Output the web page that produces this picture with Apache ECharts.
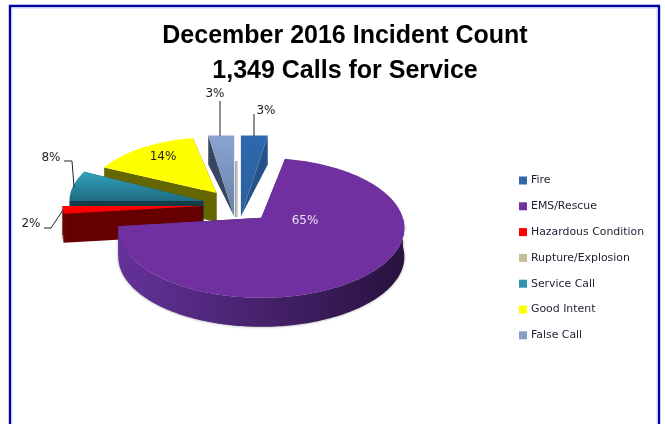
<!DOCTYPE html>
<html>
<head>
<meta charset="utf-8">
<title>December 2016 Incident Count</title>
<script src="https://cdn.jsdelivr.net/npm/echarts@6/dist/echarts.min.js"></script>
<style>
html, body { margin: 0; padding: 0; background: #fff; overflow: hidden; }
#chart { width: 665px; height: 424px; }
</style>
</head>
<body>
<div id="chart"></div>
<script>
var categories = ['Fire', 'EMS/Rescue', 'Hazardous Condition', 'Rupture/Explosion', 'Service Call', 'Good Intent', 'False Call'];
// printed labels, the chart's own numbers (they only add up to 95)
var percentLabels = ['3%', '65%', '2%', '', '8%', '14%', '3%'];
// share of the circle each wedge really takes in the picture
var shares = [3.1, 70, 1.9, 0, 7.5, 14.5, 3.0];

var colors = ['#2f66a8', '#7030a0', '#ff0000', '#c4bd97', '#2e93ad', '#ffff00', '#849dc9'];
var wallColors = ['#26528a', '#3a1c5c', '#660000', '#8a8570', '#123c48', '#666600', '#38465f'];

// back to front
var drawOrder = [6, 0, 5, 4, 3, 2, 1];

// pie layout
var centerX = 237.5, centerY = 205, explode = 35, tilt = 0.5, depth = 29;
var shape = [
    {rx: 136, ry: 81, lift: 29, drop: 0, tipDepth: 0, flat: true},
    {rx: 143, ry: 70, lift: 0, drop: 10, tipDepth: 29},
    {rx: 140, ry: 64, lift: 0, drop: 0, tipDepth: 29},
    {rx: 140, ry: 64, lift: 0, drop: 0, tipDepth: 29},
    {rx: 134, ry: 64, lift: 0, drop: 0, tipDepth: 29},
    {rx: 126, ry: 56, lift: 2, drop: 0, tipDepth: 29},
    {rx: 136, ry: 81, lift: 29, drop: 0, tipDepth: 0, flat: true}
];
// label text spot and leader line for each wedge
var labelSpots = [
    {x: 266, y: 111, line: [[254, 114], [254, 136]], color: '#222'},
    {x: 305, y: 221, color: '#e8e0f4'},
    {x: 31, y: 224, line: [[44, 228], [51, 228], [63, 210]], color: '#222'},
    null,
    {x: 51, y: 158, line: [[64, 161], [72, 161], [74, 187]], color: '#222'},
    {x: 163, y: 157, color: '#222'},
    {x: 215, y: 94, line: [[220, 101], [220, 136]], color: '#222'}
];

function rad(d) { return d * Math.PI / 180; }

function startAngleOf(i) {
    var total = 0, sum = 0;
    for (var k = 0; k < shares.length; k++) {
        total += shares[k];
        if (k < i) sum += shares[k];
    }
    return sum / total * 360;
}

// ray from the tip at angle a meets the (possibly dropped) rim ellipse
function rimPoint(tip, s, a) {
    var dx = Math.sin(rad(a)), dy = -Math.cos(rad(a));
    var c = s.drop / s.ry;
    var b = dy * c;
    var t = b + Math.sqrt(b * b - c * c + 1);
    if (s.flat) t = 1 / Math.abs(dy);
    return [tip[0] + dx * t * s.rx, tip[1] + dy * t * s.ry];
}

function shade(color1, color2, horizontal) {
    return new echarts.graphic.LinearGradient(0, 0, horizontal ? 1 : 0, horizontal ? 0 : 1, [
        {offset: 0, color: color1}, {offset: 1, color: color2}
    ]);
}

function topFill(i) {
    if (i === 0) return shade('#2f68ae', '#2b5f9e');
    if (i === 4) return shade('#30a0bc', '#1f6c82');
    if (i === 6) return shade('#8aa3d0', '#6882aa');
    return colors[i];
}

function wallFill(i) {
    if (i === 1) return shade('#64329a', '#28123e', true);
    return wallColors[i];
}

function renderWedge(i) {
    var start = startAngleOf(i);
    var end = start + shares[i] / 100 * 360;
    var mid = (start + end) / 2;
    var s = shape[i];
    var tip = [
        centerX + explode * Math.sin(rad(mid)),
        centerY - explode * tilt * Math.cos(rad(mid)) + s.lift
    ];
    var rim = [], frontRim = [];
    var steps = Math.max(6, Math.ceil(end - start));
    for (var k = 0; k <= steps; k++) {
        var a = start + (end - start) * k / steps;
        var p = rimPoint(tip, s, a);
        rim.push(p);
        if (a >= 90 && a <= 270) frontRim.push(p);
    }
    var children = [];
    var first = rim[0], last = rim[rim.length - 1];
    var wallStyle = {fill: wallFill(i)};

    // cut faces
    children.push({type: 'polygon', shape: {points: [tip, first, [first[0], first[1] + depth], [tip[0], tip[1] + s.tipDepth]]}, style: wallStyle});
    children.push({type: 'polygon', shape: {points: [tip, last, [last[0], last[1] + depth], [tip[0], tip[1] + s.tipDepth]]}, style: wallStyle});
    // round side, only the part that faces the viewer
    if (frontRim.length > 1) {
        var lower = frontRim.map(function (p) { return [p[0], p[1] + depth]; }).reverse();
        children.push({
            type: 'polygon',
            shape: {points: frontRim.concat(lower)},
            style: {fill: wallFill(i), shadowBlur: 3, shadowColor: 'rgba(60,60,60,0.5)'}
        });
    }
    // top face
    children.push({type: 'polygon', shape: {points: [tip].concat(rim)}, style: {fill: topFill(i)}});

    var spot = labelSpots[i];
    if (spot.line) {
        children.push({type: 'polyline', shape: {points: spot.line}, style: {stroke: '#222', lineWidth: 1, fill: null}});
    }
    children.push({
        type: 'text',
        style: {
            x: spot.x, y: spot.y, text: percentLabels[i], fill: spot.color,
            font: '12px "DejaVu Sans"', align: 'center', verticalAlign: 'middle'
        }
    });
    return {type: 'group', children: children};
}

var seriesList = categories.map(function (name, i) {
    return {
        type: 'custom',
        name: name,
        coordinateSystem: 'none',
        z: 2 + drawOrder.indexOf(i),
        itemStyle: {color: colors[i]},
        data: [shares[i]],
        silent: true,
        renderItem: function () {
            return shares[i] > 0 ? renderWedge(i) : null;
        }
    };
});

var myChart = echarts.init(document.getElementById('chart'), null, {renderer: 'canvas'});
myChart.setOption({
    animation: false,
    backgroundColor: '#fff',
    title: {
        text: 'December 2016 Incident Count\n1,349 Calls for Service',
        left: 340,
        top: 14,
        textAlign: 'center',
        textStyle: {fontFamily: 'Liberation Sans', fontWeight: 'bold', fontSize: 25, lineHeight: 35, color: '#000'}
    },
    legend: {
        orient: 'vertical',
        left: 514,
        top: 170,
        icon: 'rect',
        itemWidth: 8,
        itemHeight: 8,
        itemGap: 14.8,
        selectedMode: false,
        data: categories,
        textStyle: {fontFamily: 'DejaVu Sans', fontSize: 10.9, color: '#1a2030', padding: [0, 0, 0, -1]}
    },
    graphic: [
        {type: 'rect', z: 100, shape: {x: 10, y: 6, width: 649, height: 440}, style: {fill: null, stroke: '#0000a0', lineWidth: 2.4}},
        {type: 'rect', z: 100, shape: {x: 12, y: 8, width: 645, height: 440}, style: {fill: null, stroke: '#cdd3f0', lineWidth: 1}},
        // grey sliver between the two small wedges
        {type: 'rect', z: 1, shape: {x: 235, y: 161, width: 3, height: 56}, style: {fill: new echarts.graphic.LinearGradient(0, 0, 1, 0, [{offset: 0, color: '#9a9a9a'}, {offset: 1, color: '#dddddd'}])}}
    ],
    series: seriesList
});
</script>
</body>
</html>
